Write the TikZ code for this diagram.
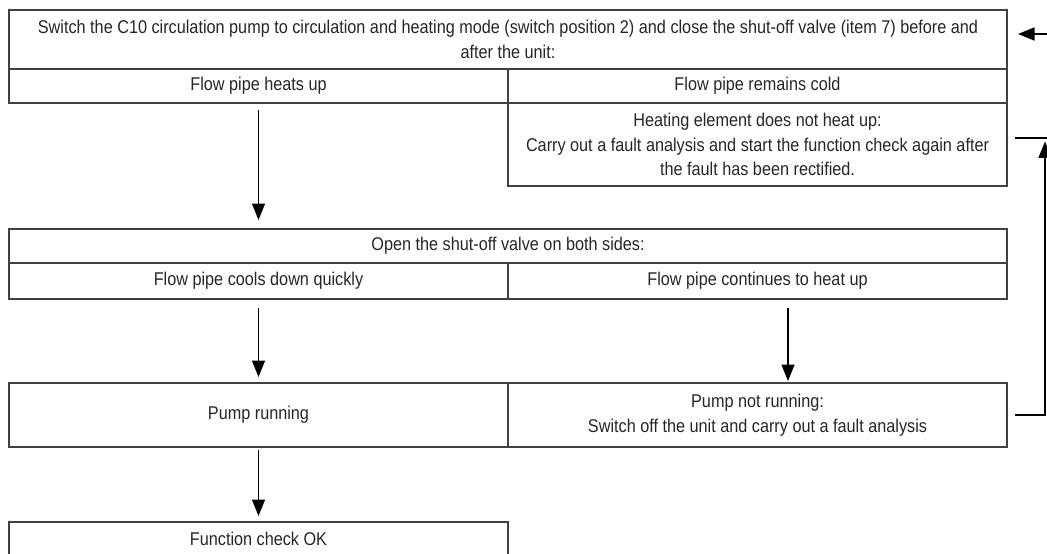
\documentclass[tikz,border=0pt]{standalone}
\usepackage{fontspec}
\setmainfont[FakeStretch=0.88]{Liberation Sans}
\usetikzlibrary{arrows.meta}
\begin{document}
\begin{tikzpicture}
\tikzstyle{feld}=[draw=black!75, line width=0.7pt, align=center, inner sep=0, outer sep=0, minimum width=9.98cm, minimum height=0.68cm, font=\fontsize{10.5}{14}\selectfont, text=black!85]
\tikzstyle{breit}=[feld, minimum width=19.96cm]
\tikzstyle{pfeil}=[-{Triangle[length=3.3mm, width=2.6mm]}, line width=0.9pt]
\useasboundingbox (0,0) rectangle (20.94,-11.06);
\node[breit, minimum height=1.18cm](title)at(10.16,-.79){Switch the C10 circulation pump to circulation and heating mode (switch position 2) and close the shut-off valve (item 7) before and\\after the unit:};
\node[feld](heats)at(5.17,-1.72){Flow pipe heats up};
\node[feld](cold)at(15.15,-1.72){Flow pipe remains cold};
\node[feld, minimum height=1.66cm](heatfail)at(15.15,-2.89){Heating element does not heat up:\\Carry out a fault analysis and start the function check again after\\the fault has been rectified.};
\node[breit](open)at(10.16,-4.92){Open the shut-off valve on both sides:};
\node[feld, minimum height=.72cm](cools)at(5.17,-5.62){Flow pipe cools down quickly};
\node[feld, minimum height=.72cm](cont)at(15.15,-5.62){Flow pipe continues to heat up};
\node[feld, minimum height=1.28cm](run)at(5.17,-8.3){Pump running};
\node[feld, minimum height=1.28cm](notrun)at(15.15,-8.3){Pump not running:\\Switch off the unit and carry out a fault analysis};
\node[feld](ok)at(5.17,-10.78){Function check OK};
\draw[pfeil, shorten <=.14cm, shorten >=.18cm](heats.south)--(heats.south|-open.north);
\draw[pfeil, shorten <=.18cm, shorten >=.12cm](cools.south)--(cools.south|-run.north);
\draw[pfeil, shorten <=.18cm, shorten >=.04cm]([xshift=.61cm]cont.south)--([xshift=.61cm]cont.south|-notrun.north);
\draw[pfeil, shorten <=.06cm, shorten >=.12cm](run.south)--(run.south|-ok.north);
\coordinate(back)at(20.9,-2.83);
\draw[pfeil, shorten <=.16cm](notrun.east)-|(back);
\draw[line width=0.9pt]([shift={(.16,.13)}]heatfail.east)--++(.8,0);
\coordinate(ein)at(21,-.68);
\draw[pfeil, shorten >=.22cm](ein)--(title.east|-ein);
\end{tikzpicture}
\end{document}
